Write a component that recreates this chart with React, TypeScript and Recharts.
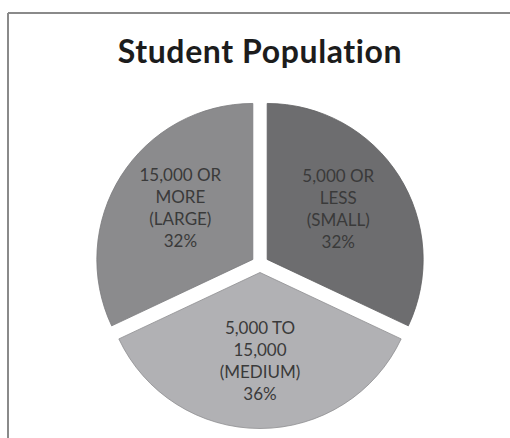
import { PieChart, Pie, Cell } from 'recharts'

// slice data, clockwise from 12 o'clock
const categories = ['5,000 OR LESS (SMALL)', '5,000 TO 15,000 (MEDIUM)', '15,000 OR MORE (LARGE)']
const shares = [32, 36, 32]
const labelLines = [
    ['5,000 OR', 'LESS', '(SMALL)'],
    ['5,000 TO', '15,000', '(MEDIUM)'],
    ['15,000 OR', 'MORE', '(LARGE)'],
]
const sliceColors = ['#6d6d6f', '#b1b1b4', '#8b8b8d']
const sliceStrokes = ['#5f5f61', '#8e8e91', '#7a7a7c']

const data = categories.map((name, i) => ({ name, value: shares[i], lines: labelLines[i] }))
const total = shares.reduce((a, b) => a + b, 0)

const RADIAN = Math.PI / 180
const CX = 255
const CY = 259
const R = 156
const EXPLODE = 8.5
const START = 90
const END = -270
const labelFactor = [0.54, 0.6, 0.55]

// mid angle of each slice (recharts convention: degrees, counter-clockwise from 3 o'clock)
const midAngles = shares.map((v, i) => {
    const before = shares.slice(0, i).reduce((a, b) => a + b, 0)
    return START + (END - START) * ((before + v / 2) / total)
})

const makeLabel = (only: number) => (props: any) => {
    const { cx, cy, midAngle, outerRadius, index, percent } = props
    if (index !== only) return null
    const r = outerRadius * labelFactor[index]
    const x = cx + r * Math.cos(-midAngle * RADIAN)
    const y = cy + r * Math.sin(-midAngle * RADIAN) - 6
    const lines = [...data[index].lines, `${Math.round(percent * 100)}%`]
    const lh = 22
    const top = y - ((lines.length - 1) * lh) / 2
    return (
        <text
            x={x}
            y={top}
            textAnchor="middle"
            dominantBaseline="central"
            fill="#3a3a3a"
            style={{ fontFamily: 'Lato, "Open Sans", sans-serif', fontSize: 17, fontVariantLigatures: 'none' }}
        >
            {lines.map((t, k) => (
                <tspan key={k} x={x} dy={k === 0 ? 0 : lh}>
                    {t}
                </tspan>
            ))}
        </text>
    )
}

export default function App() {
    return (
        <div style={{ position: 'fixed', left: 0, top: 0, width: 510, height: 438, overflow: 'hidden', background: '#fff' }}>
            <svg width={510} height={438} style={{ position: 'absolute', left: 0, top: 0 }}>
                <line x1={8} y1={13} x2={510} y2={13} stroke="#8a8a8a" strokeWidth={2} />
                <line x1={8} y1={13} x2={8} y2={438} stroke="#8a8a8a" strokeWidth={2} />
                <text
                    x={260}
                    y={63}
                    textAnchor="middle"
                    fill="#1c1c1c"
                    style={{
                        fontFamily: 'Lato, "Open Sans", sans-serif',
                        fontSize: 32,
                        fontWeight: 700,
                        letterSpacing: 0.6,
                        fontVariantLigatures: 'none',
                    }}
                >
                    Student Population
                </text>
            </svg>
            <div style={{ position: 'absolute', left: 0, top: 0 }}>
                <PieChart width={510} height={438}>
                    {midAngles.map((mid, s) => (
                        <Pie
                            key={s}
                            data={data}
                            dataKey="value"
                            nameKey="name"
                            cx={CX + EXPLODE * Math.cos(-mid * RADIAN)}
                            cy={CY + EXPLODE * Math.sin(-mid * RADIAN)}
                            outerRadius={R}
                            startAngle={START}
                            endAngle={END}
                            label={makeLabel(s)}
                            labelLine={false}
                            isAnimationActive={false}
                        >
                            {data.map((_, i) => (
                                <Cell
                                    key={i}
                                    fill={i === s ? sliceColors[i] : 'none'}
                                    stroke={i === s ? sliceStrokes[i] : 'none'}
                                    strokeWidth={i === s ? 0.8 : 0}
                                />
                            ))}
                        </Pie>
                    ))}
                </PieChart>
            </div>
        </div>
    )
}
